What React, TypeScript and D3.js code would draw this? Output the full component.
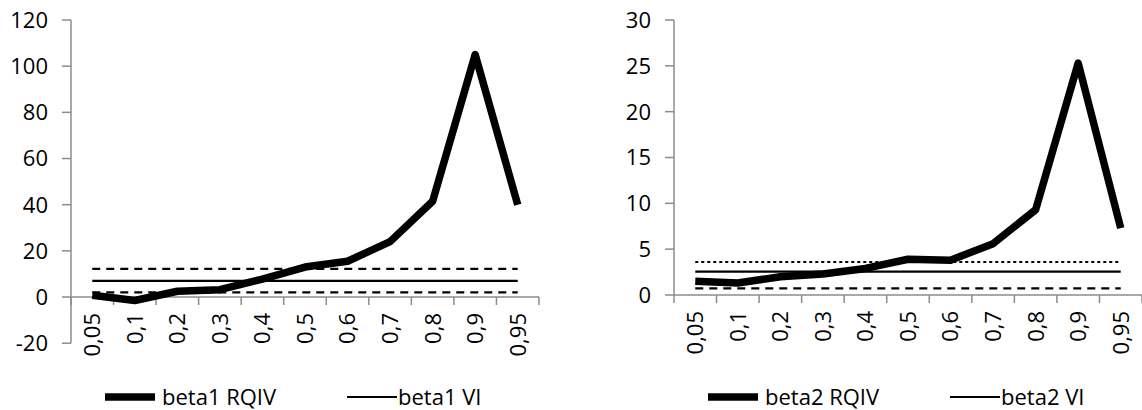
import React, { useRef, useEffect } from "react";
import * as d3 from "d3";

// Cuantiles del eje X
const quantiles = ["0,05", "0,1", "0,2", "0,3", "0,4", "0,5", "0,6", "0,7", "0,8", "0,9", "0,95"];

// beta1
const beta1Rqiv = [0.8, -1.5, 2.5, 3.2, 7.8, 13, 15.5, 24, 41.5, 105, 40];
const beta1Vi = 7;
const beta1Lower = 2;
const beta1Upper = 12.2;
const beta1Ticks = [-20, 0, 20, 40, 60, 80, 100, 120];

// beta2
const beta2Rqiv = [1.5, 1.3, 2.0, 2.3, 2.9, 3.9, 3.8, 5.6, 9.3, 25.3, 7.3];
const beta2Vi = 2.55;
const beta2Lower = 0.73;
const beta2Upper = 3.6;
const beta2Ticks = [0, 5, 10, 15, 20, 25, 30];

const FONT = "'Open Sans', 'Liberation Sans', sans-serif";

type PanelProps = {
  rqiv: number[];
  vi: number;
  lower: number;
  upper: number;
  ticks: number[];
  left: number;
  names: [string, string];
  upperDash: string;
};

const Panel = ({ rqiv, vi, lower, upper, ticks, left, names, upperDash }: PanelProps) => {
  const ref = useRef<SVGGElement>(null);

  useEffect(() => {
    const g = d3.select(ref.current);
    g.selectChildren().remove();

    const axisColor = "#8c8c8c";
    const x = d3.scaleBand().domain(quantiles).range([left, left + 468]);
    const y = d3
      .scaleLinear()
      .domain([ticks[0], ticks[ticks.length - 1]])
      .range([ticks[0] < 0 ? 343.2 : 295, 20]);
    const y0 = y(0);
    const cx = (q: string) => (x(q) as number) + x.bandwidth() / 2;

    // Eje Y
    g.append("line")
      .attr("x1", left).attr("x2", left)
      .attr("y1", y(ticks[0])).attr("y2", y(ticks[ticks.length - 1]))
      .attr("stroke", axisColor).attr("stroke-width", 1.5);
    const yt = g.append("g").selectAll("g").data(ticks).join("g");
    yt.append("line")
      .attr("x1", left - 9).attr("x2", left)
      .attr("y1", (d) => y(d)).attr("y2", (d) => y(d))
      .attr("stroke", axisColor).attr("stroke-width", 1.5);
    yt.append("text")
      .attr("x", left - 23)
      .attr("y", (d) => y(d))
      .attr("dy", "0.36em")
      .attr("text-anchor", "end")
      .style("font-size", "22px")
      .text((d) => `${d}`);

    // Eje X
    g.append("line")
      .attr("x1", left).attr("x2", left + 468)
      .attr("y1", y0).attr("y2", y0)
      .attr("stroke", axisColor).attr("stroke-width", 1.5);
    const bounds = [...quantiles.map((q) => x(q) as number), left + 468];
    g.append("g").selectAll("line").data(bounds).join("line")
      .attr("x1", (d) => d).attr("x2", (d) => d)
      .attr("y1", y0).attr("y2", y0 + 8)
      .attr("stroke", axisColor).attr("stroke-width", 1.5);
    g.append("g").selectAll("text").data(quantiles).join("text")
      .attr("transform", (d) => `translate(${cx(d)},${y0 + 16}) rotate(-90)`)
      .attr("dy", "0.36em")
      .attr("text-anchor", "end")
      .style("font-size", "22px")
      .text((d) => d);

    // Líneas horizontales VI e intervalo
    const x1 = cx(quantiles[0]);
    const x2 = cx(quantiles[quantiles.length - 1]);
    const hline = (v: number, dash: string | null, w: number) =>
      g.append("line")
        .attr("x1", x1).attr("x2", x2)
        .attr("y1", y(v)).attr("y2", y(v))
        .attr("stroke", "black").attr("stroke-width", w)
        .attr("stroke-dasharray", dash);
    hline(upper, upperDash, 2.2);
    hline(lower, "8,6", 2.2);
    hline(vi, null, 2.4);

    // RQIV
    const line = d3
      .line<number>()
      .x((_d, i) => cx(quantiles[i]))
      .y((d) => y(d));
    g.append("path")
      .attr("d", line(rqiv))
      .attr("fill", "none")
      .attr("stroke", "black")
      .attr("stroke-width", 7.5)
      .attr("stroke-linejoin", "round");

    // Leyenda
    const lx = left + 34;
    const ly = 397;
    g.append("line")
      .attr("x1", lx).attr("x2", lx + 50).attr("y1", ly).attr("y2", ly)
      .attr("stroke", "black").attr("stroke-width", 7.5);
    g.append("text").attr("x", lx + 57).attr("y", ly).attr("dy", "0.36em")
      .style("font-size", "22px").text(names[0]);
    g.append("line")
      .attr("x1", lx + 242).attr("x2", lx + 292).attr("y1", ly).attr("y2", ly)
      .attr("stroke", "black").attr("stroke-width", 2.2);
    g.append("text").attr("x", lx + 293).attr("y", ly).attr("dy", "0.36em")
      .style("font-size", "22px").text(names[1]);
  }, [rqiv, vi, lower, upper, ticks, left, names, upperDash]);

  return <g ref={ref} style={{ fontFamily: FONT }} fill="black" />;
};

export default function App() {
  return (
    <svg
      width={1142}
      height={410}
      style={{ position: "absolute", left: 0, top: 0, background: "white" }}
    >
      <rect width={1142} height={410} fill="white" />
      <Panel
        rqiv={beta1Rqiv}
        vi={beta1Vi}
        lower={beta1Lower}
        upper={beta1Upper}
        ticks={beta1Ticks}
        left={71}
        names={["beta1 RQIV", "beta1 VI"]}
        upperDash="8,6"
      />
      <Panel
        rqiv={beta2Rqiv}
        vi={beta2Vi}
        lower={beta2Lower}
        upper={beta2Upper}
        ticks={beta2Ticks}
        left={674}
        names={["beta2 RQIV", "beta2 VI"]}
        upperDash="3,3"
      />
    </svg>
  );
}
